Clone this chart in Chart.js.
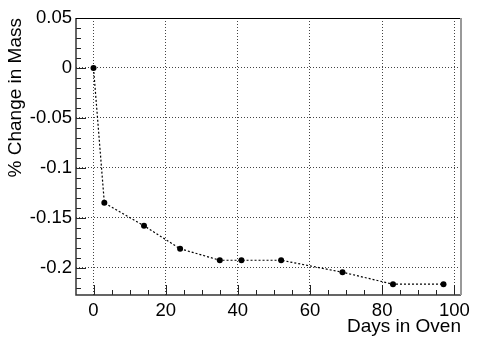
<!DOCTYPE html>
<html>
<head>
<meta charset="utf-8">
<script src="https://cdn.jsdelivr.net/npm/chart.js@4"></script>
<style>
  html,body{margin:0;padding:0;background:#fff}
  #c{display:block}
</style>
</head>
<body>
<canvas id="c" width="482" height="346"></canvas>
<script>
// data
const days = [0, 3, 14, 24, 35, 41, 52, 69, 83, 97];
const massChange = [0, -0.135, -0.158, -0.181, -0.1925, -0.1925, -0.1925, -0.2045, -0.2165, -0.2165];
const xTicks = [0, 20, 40, 60, 80, 100];
const yTicks = [-0.2, -0.15, -0.1, -0.05, 0, 0.05];

const FONT = 'Liberation Sans, Arial, Helvetica, sans-serif';
const fmt = (v) => { const r = Math.round(v*100)/100; return r === 0 ? '0' : String(r); };

// ROOT style frame: ticks inside the frame, minor ticks, solid border
const framePlugin = {
  id: 'frame',
  afterDraw(chart){
    const {ctx, chartArea:a, scales:{x, y}} = chart;
    ctx.save();
    ctx.strokeStyle = '#222'; ctx.lineWidth = 1;
    ctx.beginPath();
    for(let v=-5; v<=101; v+=5){
      const px = Math.round(x.getPixelForValue(v))+0.5;
      if(px < a.left || px > a.right) continue;
      const len = (v % 20 === 0) ? 10 : 5;
      ctx.moveTo(px, a.bottom); ctx.lineTo(px, a.bottom-len);
    }
    for(let i=-23; i<=5; i++){
      const v = i/100;
      const py = Math.round(y.getPixelForValue(v))+0.5;
      if(py < a.top || py > a.bottom) continue;
      const len = (i % 5 === 0) ? 10 : 5;
      ctx.moveTo(a.left, py); ctx.lineTo(a.left+len, py);
    }
    ctx.stroke();
    ctx.lineWidth = 1.5; ctx.strokeStyle = '#333';
    ctx.beginPath();
    ctx.moveTo(a.left, a.top); ctx.lineTo(a.left, a.bottom); ctx.lineTo(a.right, a.bottom);
    ctx.stroke();
    ctx.lineWidth = 1; ctx.strokeStyle = '#000';
    ctx.beginPath(); ctx.moveTo(a.left, a.top+0.5); ctx.lineTo(a.right, a.top+0.5); ctx.stroke();
    ctx.lineWidth = 2; ctx.strokeStyle = '#999';
    ctx.beginPath(); ctx.moveTo(a.right, a.top); ctx.lineTo(a.right, a.bottom); ctx.stroke();
    ctx.restore();
  }
};

new Chart(document.getElementById('c'), {
  type: 'scatter',
  data: {
    datasets: [{
      data: days.map((d,i)=>({x:d, y:massChange[i]})),
      showLine: true,
      borderColor: '#000',
      borderWidth: 1.2,
      borderDash: [2,2],
      tension: 0,
      pointRadius: 3,
      pointBackgroundColor: '#000',
      pointBorderColor: '#000',
      pointBorderWidth: 0
    }]
  },
  options: {
    responsive: false,
    animation: false,
    devicePixelRatio: 1,
    layout: { padding: { top: 18, right: 21, left: 0, bottom: 0 } },
    plugins: { legend: { display: false }, tooltip: { enabled: false } },
    scales: {
      x: {
        type: 'linear', position: 'bottom',
        min: -4.85, max: 101.85,
        afterFit: (s)=>{ s.height = 51; },
        afterBuildTicks: (s)=>{ s.ticks = xTicks.map(v=>({value:v})); },
        grid: { color: '#444', lineWidth: 1, drawTicks: false },
        border: { display: false, dash: [1,2] },
        ticks: { color: '#000', padding: 5, font: { family: FONT, size: 18.5 }, maxRotation: 0, callback: (v)=>String(v) },
        title: { display: true, text: 'Days in Oven', align: 'end', color: '#000', font: { family: FONT, size: 19 }, padding: { top: 0, bottom: 8 } }
      },
      y: {
        type: 'linear', position: 'left',
        min: -0.2273, max: 0.05,
        afterFit: (s)=>{ s.width = 76; },
        afterBuildTicks: (s)=>{ s.ticks = yTicks.map(v=>({value:v})); },
        grid: { color: '#444', lineWidth: 1, drawTicks: false },
        border: { display: false, dash: [1,2] },
        ticks: { color: '#000', padding: 4, font: { family: FONT, size: 18.5 }, callback: fmt },
        title: { display: true, text: '% Change in Mass', align: 'end', color: '#000', font: { family: FONT, size: 19 }, padding: { top: 4, bottom: 0 } }
      }
    }
  },
  plugins: [framePlugin]
});
</script>
</body>
</html>
